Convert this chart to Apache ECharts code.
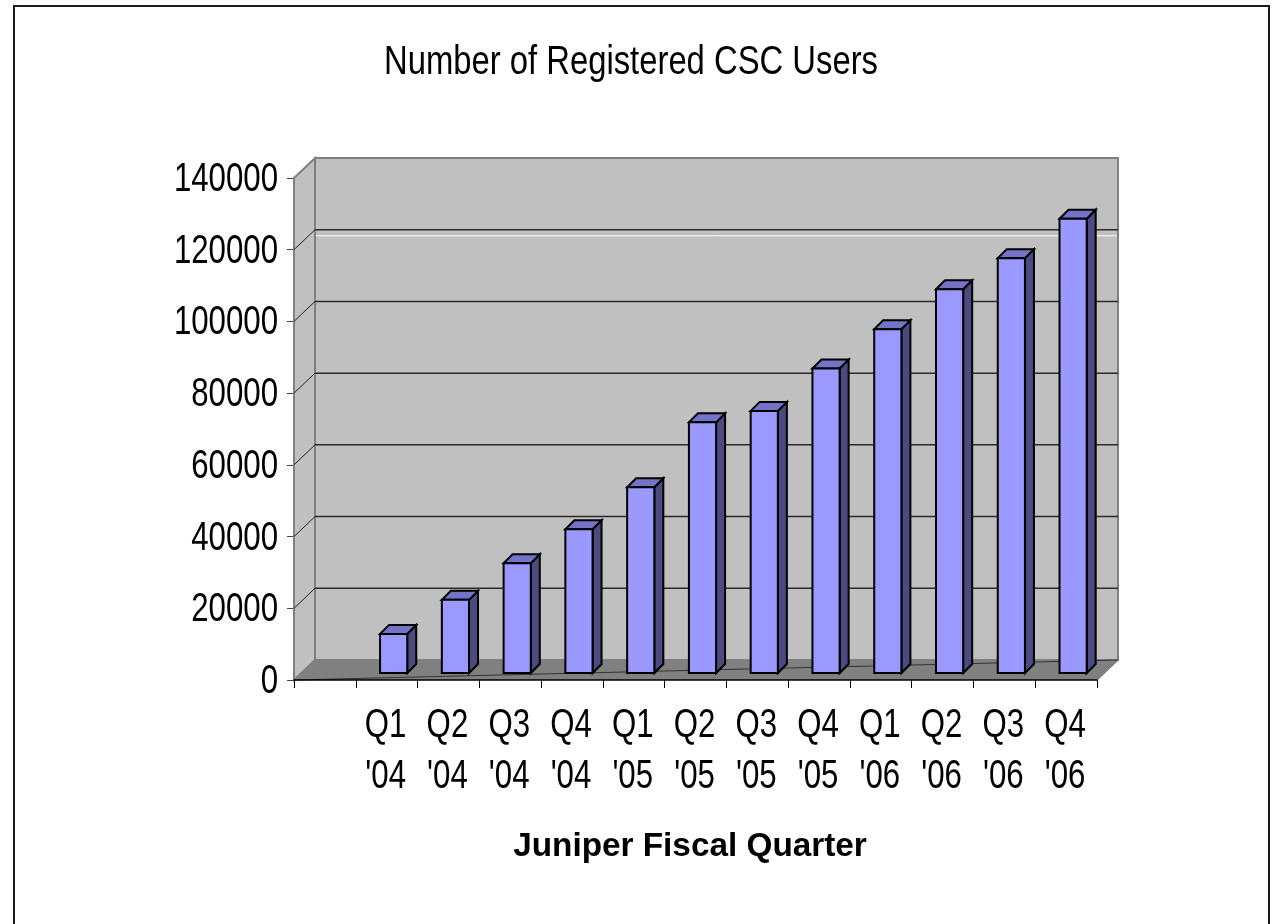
<!DOCTYPE html>
<html>
<head>
<meta charset="utf-8">
<title>Number of Registered CSC Users</title>
<script src="https://cdn.jsdelivr.net/npm/echarts@6/dist/echarts.min.js"></script>
<style>
  html, body { margin: 0; padding: 0; background: #fff; }
  #chart { width: 1273px; height: 924px; }
</style>
</head>
<body>
<div id="chart"></div>
<script>
// first category is left empty, like the original sheet
const quarters = ['', "Q1\n'04", "Q2\n'04", "Q3\n'04", "Q4\n'04", "Q1\n'05", "Q2\n'05",
  "Q3\n'05", "Q4\n'05", "Q1\n'06", "Q2\n'06", "Q3\n'06", "Q4\n'06"];
const users = [null, 10900, 20400, 30600, 40100, 51800, 69900,
  73100, 84900, 95900, 107000, 115700, 126700];
const yTickValues = [0, 20000, 40000, 60000, 80000, 100000, 120000, 140000];
const yTickLabels = ['0', '20000', '40000', '60000', '80000', '100000', '120000', '140000'];
const gridValues = [20000, 40000, 60000, 80000, 100000, 120000];
const whiteLineValue = [118300];   // stray white line on the back wall

// no narrow font installed, so text gets squeezed with scaleX
const FONT = "'Liberation Sans', Arial, sans-serif";
const DX = 21, DY = -20;   // depth of the walls
const BO = 7, BD = 9;      // bar offset into the scene, bar depth

const chart = echarts.init(document.getElementById('chart'));

function renderWalls(params, api) {
  const cs = params.coordSys;
  const l = cs.x, r = cs.x + cs.width, t = cs.y, b = cs.y + cs.height;
  return {
    type: 'group',
    children: [
      { type: 'rect', shape: { x: l + DX, y: t + DY, width: cs.width, height: cs.height },
        style: { fill: '#c0c0c0', stroke: '#808080', lineWidth: 2 } },
      { type: 'polygon', shape: { points: [[l, t], [l + DX, t + DY], [l + DX, b + DY], [l, b]] },
        style: { fill: '#c0c0c0', stroke: '#808080', lineWidth: 2 } },
      { type: 'polygon', shape: { points: [[l, b], [l + DX, b + DY], [r + DX, b + DY], [r, b]] },
        style: { fill: '#808080' } },
      { type: 'line', shape: { x1: r, y1: b, x2: r + DX, y2: b + DY },
        style: { stroke: '#808080', lineWidth: 1.5 } },
      { type: 'line', shape: { x1: l, y1: b, x2: r + DX, y2: b + DY },
        style: { stroke: '#333', lineWidth: 1 } }
    ]
  };
}

function renderGridLine(params, api) {
  const cs = params.coordSys;
  const y = api.coord([0, api.value(1)])[1];
  return {
    type: 'group',
    children: [
      { type: 'line', shape: { x1: cs.x + DX, y1: y + DY, x2: cs.x + cs.width + DX, y2: y + DY },
        style: { stroke: '#2a2a2a', lineWidth: 1.5 } },
      { type: 'line', shape: { x1: cs.x, y1: y, x2: cs.x + DX, y2: y + DY },
        style: { stroke: '#222', lineWidth: 1 } }
    ]
  };
}

function renderWhiteLine(params, api) {
  const cs = params.coordSys;
  const y = api.coord([0, api.value(1)])[1];
  return { type: 'line', shape: { x1: cs.x + DX + 1, y1: y + DY, x2: cs.x + cs.width + DX - 1, y2: y + DY },
    style: { stroke: '#ffffff', lineWidth: 1 } };
}

function renderBar(params, api) {
  const i = api.value(0);
  const base = api.coord([i, 0]);
  const top = api.coord([i, api.value(1)]);
  const bw = api.size([1, 0])[0] * 0.44;
  const x0 = top[0] + BO - bw / 2, x1 = x0 + bw;
  const yb = base[1] - BO, yt = top[1] - BO;
  const st = { stroke: '#000', lineWidth: 2, lineJoin: 'miter' };
  return {
    type: 'group',
    children: [
      { type: 'polygon', shape: { points: [[x1, yt], [x1 + BD, yt - BD], [x1 + BD, yb - BD], [x1, yb]] },
        style: Object.assign({ fill: '#4b4b80' }, st) },
      { type: 'polygon', shape: { points: [[x0, yt], [x0 + BD, yt - BD], [x1 + BD, yt - BD], [x1, yt]] },
        style: Object.assign({ fill: '#7373c8' }, st) },
      { type: 'rect', shape: { x: x0, y: yt, width: bw, height: yb - yt },
        style: Object.assign({ fill: '#9999ff' }, st) }
    ]
  };
}

function renderYLabel(params, api) {
  const cs = params.coordSys;
  const y = api.coord([0, api.value(1)])[1];
  return { type: 'text', x: cs.x - 16, y: y + 2, scaleX: 0.78,
    style: { text: yTickLabels[params.dataIndex], align: 'right', verticalAlign: 'middle',
      font: '40px ' + FONT, fill: '#000' } };
}

function renderXLabel(params, api) {
  const cs = params.coordSys;
  const i = api.value(0);
  const x = api.coord([i, 0])[0] - 1;
  return { type: 'text', x: x, y: cs.y + cs.height + 20, scaleX: 0.78,
    style: { text: quarters[i], align: 'center', verticalAlign: 'top',
      font: '40px ' + FONT, lineHeight: 51, fill: '#000' } };
}

chart.setOption({
  animation: false,
  grid: { left: 294, top: 178, width: 803, height: 502 },
  xAxis: {
    type: 'category',
    data: quarters,
    z: 10,
    axisLine: { lineStyle: { color: '#000', width: 1.5 } },
    axisTick: { show: true, interval: 0, length: 8, lineStyle: { color: '#000' } },
    axisLabel: { show: false },
    splitLine: { show: false }
  },
  yAxis: {
    type: 'value',
    min: 0, max: 140000, interval: 20000,
    axisLine: { show: true, lineStyle: { color: '#808080', width: 2 } },
    axisTick: { show: true, length: 7, lineStyle: { color: '#444' } },
    axisLabel: { show: false },
    splitLine: { show: false }
  },
  graphic: [
    { type: 'rect', shape: { x: 14, y: 6, width: 1255, height: 940 },
      style: { fill: 'none', stroke: '#1a1a1a', lineWidth: 2 }, z: 100 },
    { type: 'text', x: 631, y: 63, scaleX: 0.82,
      style: { text: 'Number of Registered CSC Users', align: 'center', verticalAlign: 'middle',
        font: '40px ' + FONT, fill: '#000' } },
    { type: 'text', x: 690, y: 847, scaleX: 0.98,
      style: { text: 'Juniper Fiscal Quarter', align: 'center', verticalAlign: 'middle',
        font: 'bold 34px ' + FONT, fill: '#000' } }
  ],
  series: [
    { type: 'custom', z: 1, clip: false, silent: true, renderItem: renderWalls, data: [[0, 0]] },
    { type: 'custom', z: 2, clip: false, silent: true, renderItem: renderGridLine,
      data: gridValues.map(v => [0, v]) },
    { type: 'custom', z: 2, clip: false, silent: true, renderItem: renderWhiteLine,
      data: whiteLineValue.map(v => [0, v]) },
    { type: 'custom', z: 3, clip: false, name: 'Registered users', renderItem: renderBar,
      data: users.map((v, i) => [i, v]).filter(d => d[1] != null) },
    { type: 'custom', z: 4, clip: false, silent: true, renderItem: renderYLabel,
      data: yTickValues.map(v => [0, v]) },
    { type: 'custom', z: 4, clip: false, silent: true, renderItem: renderXLabel,
      data: quarters.map((q, i) => [i, 0]) }
  ]
});
</script>
</body>
</html>
